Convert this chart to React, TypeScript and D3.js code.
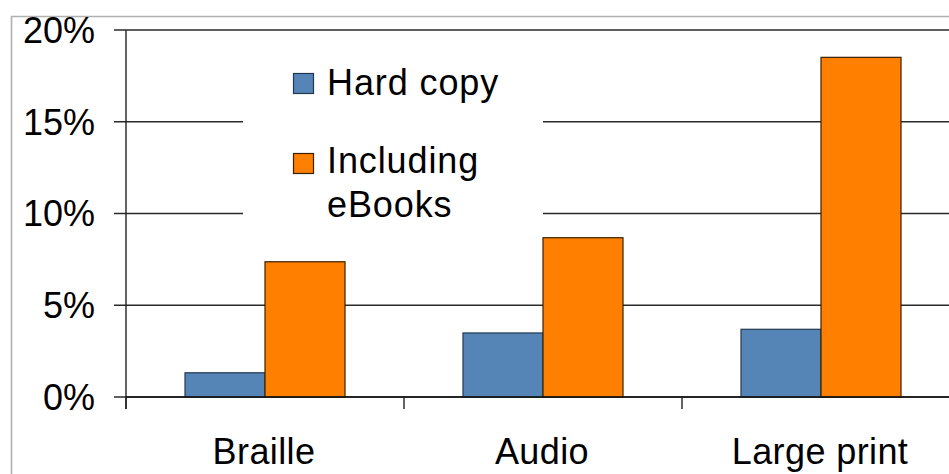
import React from "react";
import * as d3 from "d3";

const categories = ["Braille", "Audio", "Large print"];
const seriesNames = ["Hard copy", "Including eBooks"];
const hardCopy = [1.32, 3.49, 3.69];
const includingEbooks = [7.37, 8.68, 18.51];
const yTicks = [0, 5, 10, 15, 20];

const colors = ["#5584B7", "#FF7F00"];
const strokes = ["#23384f", "#3a2000"];

const W = 949;
const H = 474;
const left = 126;
const right = 960;
const top = 30;
const bottom = 397;

export default function App() {
  const x0 = d3.scaleBand<string>().domain(categories).range([left, right]).paddingInner(0).paddingOuter(0);
  const x1 = d3
    .scaleBand<string>()
    .domain(seriesNames)
    .range([0, x0.bandwidth()])
    .paddingInner(0)
    .paddingOuter(0.7375);
  const y = d3.scaleLinear().domain([0, 20]).range([bottom, top]);
  const series = [hardCopy, includingEbooks];
  const font = "'Liberation Sans', Arial, sans-serif";
  const catTicks = [...categories.map((c) => x0(c) as number), right];

  return (
    <svg width={W} height={H} style={{ position: "absolute", left: 0, top: 0, background: "#fff" }} fontFamily={font}>
      {/* outer border */}
      <path d={`M11.5,${H + 5} V16.5 H${W + 5}`} fill="none" stroke="#b0b0b0" strokeWidth={1.6} />
      {/* gridlines */}
      {yTicks.map((t) => (
        <line key={"g" + t} x1={left - 12} x2={right} y1={y(t)} y2={y(t)} stroke="#2a2a2a" strokeWidth={1.4} />
      ))}
      {/* legend background */}
      <rect x={243} y={42} width={300} height={190} fill="#fff" />
      {/* bars */}
      {categories.map((c, i) =>
        series.map((vals, s) => (
          <rect
            key={c + s}
            x={(x0(c) as number) + (x1(seriesNames[s]) as number)}
            y={y(vals[i])}
            width={x1.bandwidth()}
            height={bottom - y(vals[i])}
            fill={colors[s]}
            stroke={strokes[s]}
            strokeWidth={1.2}
          />
        ))
      )}
      {/* y axis */}
      <line x1={left} x2={left} y1={top} y2={bottom + 12} stroke="#222" strokeWidth={1.4} />
      <line x1={left} x2={right} y1={bottom} y2={bottom} stroke="#111" strokeWidth={1.5} />
      {catTicks.map((t, i) => (
        <line key={"ct" + i} x1={t} x2={t} y1={bottom} y2={bottom + 12} stroke="#222" strokeWidth={1.4} />
      ))}
      {yTicks.map((t) => (
        <text key={"yl" + t} x={95} y={y(t)} dy="0.36em" textAnchor="end" fontSize={36} fill="#000">
          {t + "%"}
        </text>
      ))}
      {categories.map((c) => (
        <text
          key={"xl" + c}
          x={(x0(c) as number) + x0.bandwidth() / 2 - 1}
          y={464}
          textAnchor="middle"
          fontSize={36}
          letterSpacing={0.4}
          fill="#000"
        >
          {c}
        </text>
      ))}
      {/* legend */}
      <g fontSize={36} letterSpacing={0.9} fill="#000">
        <rect x={293.5} y={73.5} width={20} height={20} fill={colors[0]} stroke={strokes[0]} strokeWidth={1.2} />
        <text x={327} y={95}>
          Hard copy
        </text>
        <rect x={293.5} y={153.5} width={20} height={20} fill={colors[1]} stroke={strokes[1]} strokeWidth={1.2} />
        <text x={327} y={173}>
          Including
        </text>
        <text x={327} y={217}>
          eBooks
        </text>
      </g>
    </svg>
  );
}
